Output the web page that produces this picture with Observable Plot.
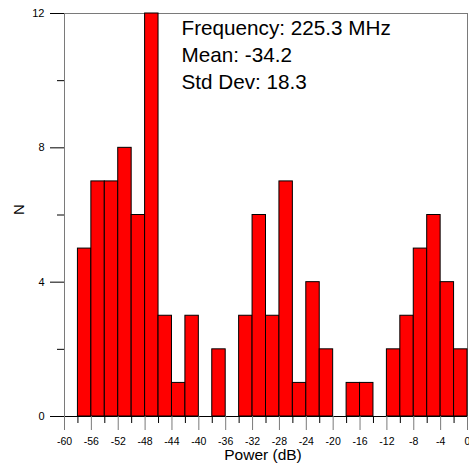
<!DOCTYPE html>
<html>
<head>
<meta charset="utf-8">
<script src="https://cdn.jsdelivr.net/npm/d3@7"></script>
<script src="https://cdn.jsdelivr.net/npm/@observablehq/plot@0.6"></script>
<style>
  html, body { margin: 0; padding: 0; background: white; }
  #chart { width: 469px; height: 471px; overflow: hidden; }
</style>
</head>
<body>
<div id="chart"></div>
<script>
// Histogram bins (dB) and counts
const binStart = [-58,-56,-54,-52,-50,-48,-46,-44,-42,-40,-38,-36,-34,-32,-30,-28,-26,-24,-22,-20,-18,-16,-14,-12,-10,-8,-6,-4,-2];
const binEnd   = [-56,-54,-52,-50,-48,-46,-44,-42,-40,-38,-36,-34,-32,-30,-28,-26,-24,-22,-20,-18,-16,-14,-12,-10,-8,-6,-4,-2,0];
const counts   = [5,7,7,8,6,12,3,1,3,0,2,0,3,6,3,7,1,4,2,0,1,1,0,2,3,5,6,4,2];

const xMajorTicks = [-60,-56,-52,-48,-44,-40,-36,-32,-28,-24,-20,-16,-12,-8,-4,0];
const xTickLabels = ["-60","-56","-52","-48","-44","-40","-36","-32","-28","-24","-20","-16","-12","-8","-4","0"];
const xMinorTicks = [-58,-54,-50,-46,-42,-38,-34,-30,-26,-22,-18,-14,-10,-6,-2];
const yMajorTicks = [0,4,8,12];
const yMinorTicks = [2,6,10];

const xLabel = "Power (dB)";
const yLabel = "N";
const annotation = ["Frequency: 225.3 MHz", "Mean: -34.2", "Std Dev: 18.3"];

const bins = binStart.map((x1, i) => ({x1, x2: binEnd[i], n: counts[i]})).filter(d => d.n > 0);

const chart = Plot.plot({
  width: 469,
  height: 471,
  marginLeft: 64,
  marginRight: 2,
  marginTop: 13,
  marginBottom: 55,
  style: {fontFamily: "'Liberation Sans', Arial, sans-serif", background: "white", color: "black", overflow: "visible"},
  x: {domain: [-60, 0]},
  y: {domain: [0, 12]},
  marks: [
    Plot.frame({stroke: "#7a7a7a"}),
    Plot.rectY(bins, {x1: "x1", x2: "x2", y: "n", fill: "#ff0000", stroke: "black", strokeWidth: 1}),
    Plot.ruleY([0], {stroke: "black"}),
    Plot.axisX({ticks: xMajorTicks, tickSize: 14, tickPadding: 7, stroke: "#7a7a7a", fill: "black",
      tickFormat: d => xTickLabels[xMajorTicks.indexOf(d)], fontSize: 10.5, label: null}),
    Plot.axisX({ticks: xMinorTicks, tickSize: 7, stroke: "black", tickFormat: () => "", label: null}),
    Plot.axisY({ticks: yMajorTicks, tickSize: 14, tickPadding: 6, stroke: "black",
      tickFormat: d => String(d), fontSize: 11, label: null}),
    Plot.axisY({ticks: yMinorTicks, tickSize: 7, stroke: "black", tickFormat: () => "", label: null}),
    Plot.text([xLabel], {frameAnchor: "bottom", dx: -3, dy: 39, fontSize: 15.5, lineAnchor: "middle"}),
    Plot.text([yLabel], {frameAnchor: "left", dx: -45, rotate: -90, fontSize: 15, lineAnchor: "middle"}),
    Plot.text([annotation.join("\n")], {frameAnchor: "top-left", dx: 117, dy: 3, textAnchor: "start",
      lineAnchor: "top", fontSize: 20.7, lineHeight: 1.29})
  ]
});
document.getElementById("chart").append(chart);
</script>
</body>
</html>
